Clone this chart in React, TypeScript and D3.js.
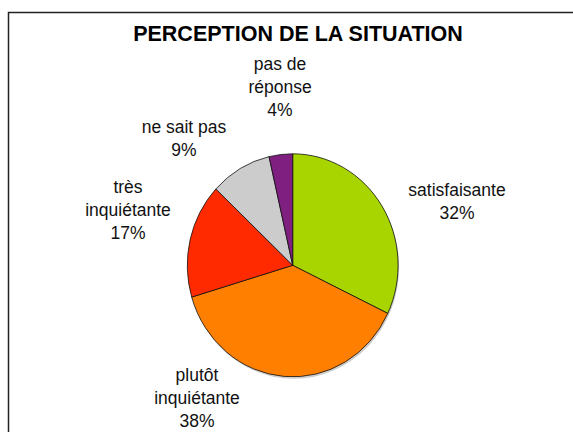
import React, { useEffect, useRef } from "react";
import * as d3 from "d3";

const categories = ["satisfaisante", "plutôt inquiétante", "très inquiétante", "ne sait pas", "pas de réponse"];
const values = [32.1, 38.3, 16.6, 9.4, 3.6];
const pctLabels = ["32%", "38%", "17%", "9%", "4%"];
const labelLines = [["satisfaisante"], ["plutôt", "inquiétante"], ["très", "inquiétante"], ["ne sait pas"], ["pas de", "réponse"]];
const colors = ["#A8D400", "#FF7F00", "#FF2A00", "#CCCCCC", "#7F1F7F"];

// label anchor (center x, first baseline) per slice
const labelPos = [
  [457, 196],
  [197, 381],
  [128, 193],
  [184, 133],
  [280, 70],
];

function App() {
  const svgRef = useRef<SVGSVGElement>(null);

  useEffect(() => {
    const w = 573;
    const h = 432;
    const cx = 292.7;
    const cy = 265.3;
    const rx = 105.4;
    const ry = 111.5;

    const svg = d3.select(svgRef.current).attr("width", w).attr("height", h);
    svg.selectAll("*").remove();

    svg
      .append("rect")
      .attr("width", w)
      .attr("height", h)
      .attr("fill", "white");

    // chart border (only top and left are visible in the frame)
    svg
      .append("rect")
      .attr("x", 8.5)
      .attr("y", 12.5)
      .attr("width", w + 20)
      .attr("height", h + 20)
      .attr("fill", "none")
      .attr("stroke", "#222")
      .attr("stroke-width", 1.5);

    svg
      .append("text")
      .attr("x", 298)
      .attr("y", 41)
      .attr("text-anchor", "middle")
      .attr("font-family", "Liberation Sans, Arial, sans-serif")
      .attr("font-weight", "bold")
      .attr("font-size", 21.5)
      .text("PERCEPTION DE LA SITUATION");

    const pie = d3
      .pie<number>()
      .sort(null)
      .value((d) => d);
    const arcs = pie(values);
    const arc = d3.arc<d3.PieArcDatum<number>>().innerRadius(0).outerRadius(rx);

    // faint shadow
    svg
      .append("ellipse")
      .attr("cx", cx + 1)
      .attr("cy", cy + 2)
      .attr("rx", rx)
      .attr("ry", ry)
      .attr("fill", "#999")
      .attr("opacity", 0.5);

    const g = svg
      .append("g")
      .attr("transform", `translate(${cx},${cy}) scale(1,${ry / rx})`);

    g.selectAll("path")
      .data(arcs)
      .join("path")
      .attr("d", arc)
      .attr("fill", (d, i) => colors[i])
      .attr("stroke", "#111")
      .attr("stroke-width", 0.8)
      .attr("vector-effect", "non-scaling-stroke");

    const lh = 23;
    const labels = svg
      .append("g")
      .attr("font-family", "Liberation Sans, Arial, sans-serif")
      .attr("font-size", 17.5)
      .attr("fill", "#111")
      .attr("text-anchor", "middle");

    categories.forEach((c, i) => {
      const lines = [...labelLines[i], pctLabels[i]];
      const t = labels.append("text").attr("x", labelPos[i][0]).attr("y", labelPos[i][1]);
      lines.forEach((ln, j) => {
        t.append("tspan")
          .attr("x", labelPos[i][0])
          .attr("y", labelPos[i][1] + j * lh)
          .text(ln);
      });
    });
  }, []);

  return (
    <div style={{ position: "absolute", left: 0, top: 0 }}>
      <svg ref={svgRef} style={{ display: "block" }}></svg>
    </div>
  );
}

export default App;
